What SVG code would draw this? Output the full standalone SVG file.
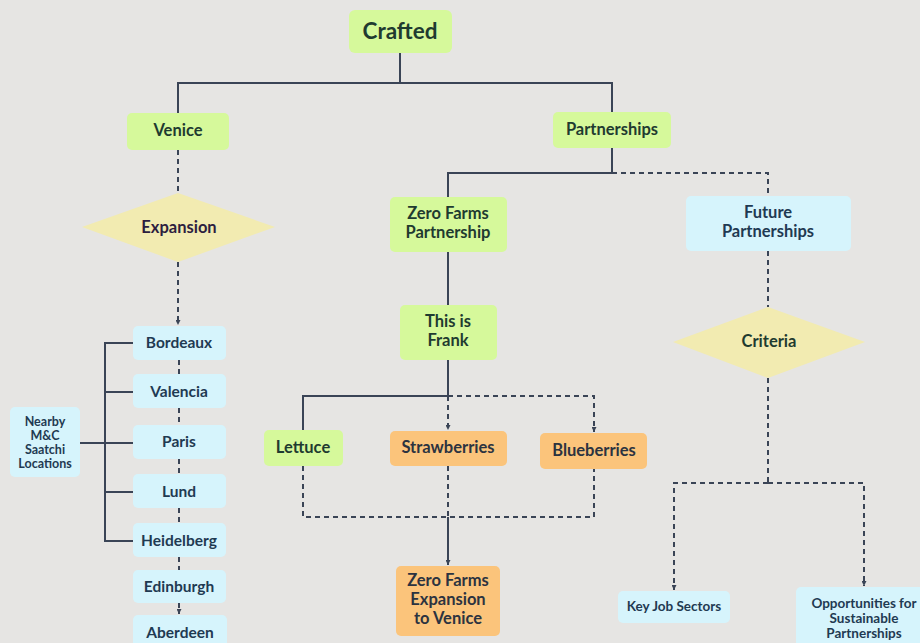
<svg xmlns="http://www.w3.org/2000/svg" width="920" height="643" viewBox="0 0 920 643">
  <defs>
    <style>
      .bg { fill: #e6e5e3; }
      .green { fill: #d6f99b; }
      .orange { fill: #fbc47b; }
      .blue { fill: #d6f4fc; }
      .diamond { fill: #f2ebb1; }
      text { font-family: "Lato", "Liberation Sans", sans-serif; font-weight: bold; text-anchor: middle; dominant-baseline: central; }
      .tg { fill: #1f3b30; font-size: 16.5px; }
      .to { fill: #2c3340; font-size: 16.5px; }
      .tb { fill: #1f3a52; font-size: 15.5px; }
      .ts { fill: #1f3a52; font-size: 13.5px; }
      .tn { fill: #1f3a52; font-size: 12.5px; }
      .td { fill: #2d1e40; font-size: 16.5px; }
      .solid { fill: none; stroke: #3a4456; stroke-width: 2; }
      .dash { fill: none; stroke: #3a4456; stroke-width: 2; stroke-dasharray: 5 4; }
    </style>
    <marker id="arrow" viewBox="0 0 10 10" refX="10" refY="5" markerWidth="5" markerHeight="5" orient="auto" markerUnits="userSpaceOnUse">
      <path d="M0,0 L10,5 L0,10 z" fill="#3a4456"/>
    </marker>
  </defs>

  <rect class="bg" x="0" y="0" width="920" height="643"/>

  <!-- connectors -->
  <g id="connectors">
    <!-- root split -->
    <path class="solid" d="M400,53 V83 H178 V113"/>
    <path class="solid" d="M400,83 H612 V112"/>
    <!-- Venice branch -->
    <path class="dash" d="M178,150 V193"/>
    <path class="dash" d="M178,262 V325" marker-end="url(#arrow)"/>
    <path class="dash" d="M179,360 V374"/>
    <path class="dash" d="M179,408 V425"/>
    <path class="dash" d="M179,459 V474"/>
    <path class="dash" d="M179,508 V523"/>
    <path class="dash" d="M179,557 V570"/>
    <path class="dash" d="M179,603 V614" marker-end="url(#arrow)"/>
    <!-- locations bracket -->
    <path class="solid" d="M79,443 H105"/>
    <path class="solid" d="M133,343 H105 V541 H133"/>
    <path class="solid" d="M105,392 H133"/>
    <path class="solid" d="M105,443 H133"/>
    <path class="solid" d="M105,492 H133"/>
    <!-- Partnerships branch -->
    <path class="solid" d="M612,148 V173 H448 V197"/>
    <path class="dash" d="M612,173 H768 V196"/>
    <path class="solid" d="M448,252 V305"/>
    <path class="solid" d="M448,360 V396 H303 V430"/>
    <path class="dash" d="M448,396 V430" marker-end="url(#arrow)"/>
    <path class="dash" d="M448,396 H594 V432" marker-end="url(#arrow)"/>
    <!-- produce merge -->
    <path class="dash" d="M303,466 V517 H594 V469"/>
    <path class="dash" d="M448,466 V517"/>
    <path class="solid" d="M448,517 V565" marker-end="url(#arrow)"/>
    <!-- future partnerships -->
    <path class="dash" d="M768,251 V307"/>
    <path class="dash" d="M768,378 V483"/>
    <path class="dash" d="M768,483 H674 V590" marker-end="url(#arrow)"/>
    <path class="dash" d="M768,483 H864 V586" marker-end="url(#arrow)"/>
  </g>

  <g id="crafted">
    <rect class="green" x="349" y="10" width="103" height="43" rx="6"/>
    <text class="tg" x="400" y="30" style="font-size:22.5px">Crafted</text>
  </g>
  <g id="venice">
    <rect class="green" x="127" y="113" width="102" height="37" rx="5"/>
    <text class="tg" x="178" y="130">Venice</text>
  </g>
  <g id="partnerships">
    <rect class="green" x="553" y="112" width="118" height="36" rx="5"/>
    <text class="tg" x="612" y="129">Partnerships</text>
  </g>
  <g id="expansion">
    <polygon class="diamond" points="178,193 275,227 178,262 82,227"/>
    <text class="td" x="179" y="227">Expansion</text>
  </g>
  <g id="nearby">
    <rect class="blue" x="10" y="407" width="70" height="70" rx="5"/>
    <text class="tn" x="45" y="421">Nearby</text>
    <text class="tn" x="45" y="435">M&amp;C</text>
    <text class="tn" x="45" y="449">Saatchi</text>
    <text class="tn" x="45" y="463">Locations</text>
  </g>
  <g id="bordeaux">
    <rect class="blue" x="133" y="326" width="93" height="34" rx="5"/>
    <text class="tb" x="179" y="342">Bordeaux</text>
  </g>
  <g id="valencia">
    <rect class="blue" x="133" y="374" width="93" height="34" rx="5"/>
    <text class="tb" x="179" y="391">Valencia</text>
  </g>
  <g id="paris">
    <rect class="blue" x="133" y="425" width="93" height="34" rx="5"/>
    <text class="tb" x="179" y="441">Paris</text>
  </g>
  <g id="lund">
    <rect class="blue" x="133" y="474" width="93" height="34" rx="5"/>
    <text class="tb" x="179" y="491">Lund</text>
  </g>
  <g id="heidelberg">
    <rect class="blue" x="133" y="523" width="93" height="34" rx="5"/>
    <text class="tb" x="179" y="540">Heidelberg</text>
  </g>
  <g id="edinburgh">
    <rect class="blue" x="133" y="570" width="93" height="33" rx="5"/>
    <text class="tb" x="179" y="586">Edinburgh</text>
  </g>
  <g id="aberdeen">
    <rect class="blue" x="133" y="615" width="94" height="40" rx="5"/>
    <text class="tb" x="180" y="632">Aberdeen</text>
  </g>
  <g id="zero-farms-partnership">
    <rect class="green" x="390" y="197" width="117" height="55" rx="5"/>
    <text class="tg" x="448" y="213">Zero Farms</text>
    <text class="tg" x="448" y="232">Partnership</text>
  </g>
  <g id="this-is-frank">
    <rect class="green" x="400" y="305" width="97" height="55" rx="5"/>
    <text class="tg" x="448" y="321">This is</text>
    <text class="tg" x="448" y="340">Frank</text>
  </g>
  <g id="lettuce">
    <rect class="green" x="264" y="430" width="79" height="36" rx="5"/>
    <text class="tg" x="303" y="447">Lettuce</text>
  </g>
  <g id="strawberries">
    <rect class="orange" x="390" y="431" width="117" height="35" rx="5"/>
    <text class="to" x="448" y="447">Strawberries</text>
  </g>
  <g id="blueberries">
    <rect class="orange" x="540" y="433" width="107" height="36" rx="5"/>
    <text class="to" x="594" y="450">Blueberries</text>
  </g>
  <g id="zero-farms-expansion">
    <rect class="orange" x="396" y="566" width="104" height="70" rx="5"/>
    <text class="to" x="448" y="580">Zero Farms</text>
    <text class="to" x="448" y="599">Expansion</text>
    <text class="to" x="448" y="618">to Venice</text>
  </g>
  <g id="future-partnerships">
    <rect class="blue" x="686" y="196" width="165" height="55" rx="5"/>
    <text class="tb" x="768" y="212" style="font-size:16.5px">Future</text>
    <text class="tb" x="768" y="231" style="font-size:16.5px">Partnerships</text>
  </g>
  <g id="criteria">
    <polygon class="diamond" points="768,307 865,342 768,378 673,342"/>
    <text class="tg" x="769" y="341">Criteria</text>
  </g>
  <g id="key-job-sectors">
    <rect class="blue" x="618" y="591" width="112" height="32" rx="5"/>
    <text class="ts" x="674" y="606">Key Job Sectors</text>
  </g>
  <g id="opportunities">
    <rect class="blue" x="796" y="587" width="130" height="60" rx="5"/>
    <text class="ts" x="864" y="603">Opportunities for</text>
    <text class="ts" x="864" y="618">Sustainable</text>
    <text class="ts" x="864" y="633">Partnerships</text>
  </g>
</svg>
